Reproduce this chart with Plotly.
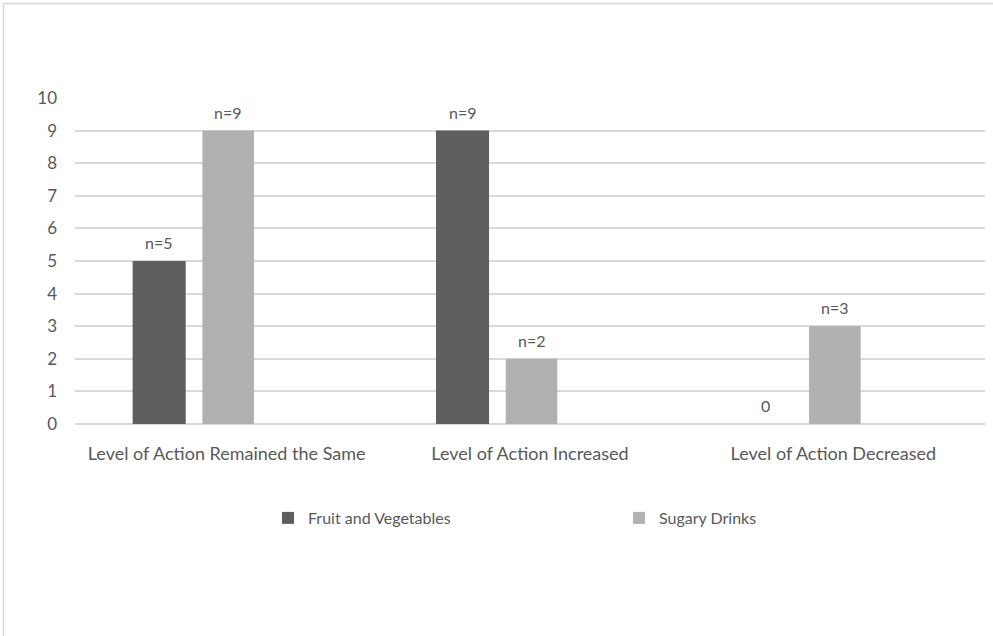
import plotly.graph_objects as go

categories = ["Level of Action Remained the Same", "Level of Action Increased", "Level of Action Decreased"]
fruit_veg = [5, 9, 0]
sugary = [9, 2, 3]
fruit_labels = ["n=5", "n=9", "0"]
sugary_labels = ["n=9", "n=2", "n=3"]
y_ticks = list(range(0, 11))

W, H = 993, 636
ML, MR, MT, MB = 75, 8, 98, 212
pw = W - ML - MR
ph = H - MT - MB

font_family = "Lato, 'Open Sans', sans-serif"
txt_color = "#595959"

series = [
    dict(name="Fruit and Vegetables", y=fruit_veg, labels=fruit_labels, color="#5F5F5F", width=0.175, offset=-0.31),
    dict(name="Sugary Drinks", y=sugary, labels=sugary_labels, color="#B1B1B1", width=0.17, offset=-0.08),
]

fig = go.Figure()
for s in series:
    fig.add_trace(go.Bar(
        x=list(range(len(categories))), y=s["y"], name=s["name"],
        marker=dict(color=s["color"], line=dict(width=0)),
        width=s["width"], offset=s["offset"],
    ))
    for i, (v, lab) in enumerate(zip(s["y"], s["labels"])):
        fig.add_annotation(
            x=i + s["offset"] + s["width"] / 2, y=v, xref="x", yref="y",
            text=lab, showarrow=False, yanchor="bottom", xanchor="center",
            yshift=7, font=dict(size=16, color=txt_color, family=font_family),
        )

# outer chart border (visible on left and top)
fig.add_shape(type="rect", xref="paper", yref="paper",
              x0=(3.5 - ML) / pw, x1=(W + 10 - ML) / pw,
              y0=-(MB + 10) / ph, y1=1 + (MT - 3.5) / ph,
              line=dict(color="#D9D9D9", width=1.5), layer="below")

fig.update_layout(
    width=W, height=H,
    margin=dict(l=ML, r=MR, t=MT, b=MB, pad=0),
    paper_bgcolor="white", plot_bgcolor="white",
    barmode="overlay",
    showlegend=True,
    legend=dict(orientation="h", x=(268 - ML) / pw, xanchor="left",
                y=-(518 - (MT + ph)) / ph, yanchor="middle",
                entrywidth=306, entrywidthmode="pixels",
                font=dict(size=16, color=txt_color, family=font_family),
                itemsizing="constant", traceorder="normal"),
    font=dict(family=font_family, color=txt_color, size=16),
)
fig.update_xaxes(range=[-0.5, len(categories) - 0.5],
                 tickvals=list(range(len(categories))), ticktext=categories,
                 showgrid=False, showline=False, zeroline=False,
                 tickfont=dict(size=18, color=txt_color, family=font_family),
                 ticks="", ticklabelstandoff=17)
fig.update_yaxes(range=[0, 10], tickvals=y_ticks, showgrid=True,
                 gridcolor="#D9D9D9", gridwidth=1.5, zeroline=True,
                 zerolinecolor="#D9D9D9", zerolinewidth=1.5, showline=False,
                 tickfont=dict(size=17, color=txt_color, family=font_family),
                 ticks="", ticklabelstandoff=17)

fig.write_html("out.html")
